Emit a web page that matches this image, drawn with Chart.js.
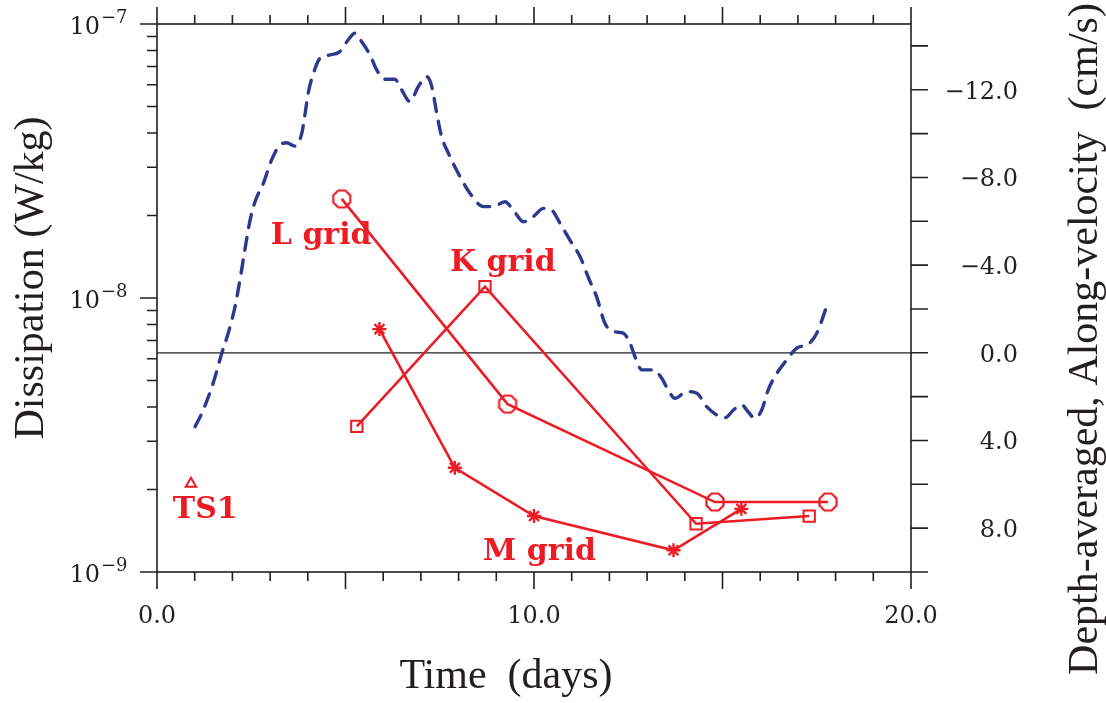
<!DOCTYPE html>
<html>
<head>
<meta charset="utf-8">
<title>Dissipation and depth-averaged velocity</title>
<script src="https://cdn.jsdelivr.net/npm/chart.js@4.4.1/dist/chart.umd.min.js"></script>
<style>
  html, body { margin: 0; padding: 0; background: #fff; }
</style>
</head>
<body>
<canvas id="canvas" width="1106" height="703"></canvas>
<script>
// depth-averaged along-channel velocity (cm/s), right axis
var velDays = [1.01, 1.19, 1.49, 1.72, 1.89, 2.07, 2.20, 2.33, 2.47, 2.60, 2.82, 3.04, 3.26, 3.44,
  3.66, 3.84, 3.93, 4.01, 4.15, 4.32, 4.59, 4.85, 5.07, 5.25, 5.43, 5.65, 5.83, 6.05, 6.31, 6.49,
  6.71, 6.93, 7.15, 7.29, 7.42, 7.55, 7.73, 7.99, 8.30, 8.66, 8.92, 9.23, 9.45, 9.72, 9.98, 10.25,
  10.47, 10.69, 10.95, 11.22, 11.45, 11.66, 11.88, 12.15, 12.37, 12.55, 12.68, 12.86, 13.16, 13.39,
  13.56, 13.74, 14.05, 14.32, 14.58, 14.85, 15.07, 15.29, 15.51, 15.68, 15.86, 16.04, 16.21, 16.44,
  16.70, 16.97, 17.28, 17.50, 17.76];
var velValues = [3.37, 2.75, 1.38, 0.01, -0.90, -2.11, -3.32, -4.69, -6.06, -6.89, -7.73, -8.80, -9.48, -9.58,
  -9.43, -10.01, -10.93, -11.84, -12.75, -13.43, -13.59, -13.74, -14.27, -14.58, -14.19, -13.59, -12.90, -12.48, -12.48, -11.99,
  -11.46, -12.14, -12.60, -12.14, -10.93, -9.86, -9.10, -8.19, -7.28, -6.67, -6.67, -6.89, -6.51, -5.98, -6.21, -6.59,
  -6.51, -5.91, -5.15, -4.39, -3.40, -2.56, -1.35, -0.96, -0.89, -0.43, 0.18, 0.78, 0.78, 1.16,
  1.70, 2.08, 1.77, 1.85, 2.46, 2.84, 2.96, 2.61, 2.38, 2.69, 2.99, 2.61, 1.70, 0.94,
  0.33, -0.21, -0.40, -0.89, -2.10];

// dissipation (W/kg) from the three grids, left axis
var lDays = [4.9, 9.3, 14.8, 17.8];
var lDiss = [2.3e-8, 4.1e-9, 1.8e-9, 1.8e-9];
var kDays = [5.3, 8.7, 14.3, 17.3];
var kDiss = [3.4e-9, 1.1e-8, 1.5e-9, 1.6e-9];
var mDays = [5.9, 7.9, 10.0, 13.7, 15.5];
var mDiss = [7.7e-9, 2.4e-9, 1.6e-9, 1.2e-9, 1.7e-9];
var tsDays = [0.9];
var tsDiss = [2.1e-9];

// tick labels
var dayLabels = [0, 10, 20];
var velLabels = [-12, -8, -4, 0, 4, 8];
var dissExponents = [-7, -8, -9];

// red text labels, anchored at (day, dissipation) of the text's left baseline
var gridNames = [
  { text: "L grid", day: 3.02, diss: 1.57e-8 },
  { text: "K grid", day: 7.77, diss: 1.25e-8 },
  { text: "M grid", day: 8.65, diss: 1.11e-9 },
  { text: "TS1", day: 0.42, diss: 1.57e-9 }
];

var RED = "#ed1c24";
var BLUE = "#2b3990";
var INK = "#231f20";

function pts(xs, ys) {
  return xs.map(function (x, i) { return { x: x, y: ys[i] }; });
}

// open octagon marker for the L grid
var octagon = (function () {
  var c = document.createElement("canvas");
  c.width = c.height = 24;
  var g = c.getContext("2d");
  g.strokeStyle = RED;
  g.lineWidth = 2.2;
  g.beginPath();
  for (var i = 0; i < 8; i++) {
    var a = Math.PI / 8 + i * Math.PI / 4;
    var px = 12 + 9.2 * Math.cos(a), py = 12 + 9.2 * Math.sin(a);
    if (i === 0) g.moveTo(px, py); else g.lineTo(px, py);
  }
  g.closePath();
  g.stroke();
  return c;
})();

// frame, tick marks (majors longer than minors), tick labels and titles
var axesFrame = {
  id: "axesFrame",
  beforeDatasetsDraw: function (chart) {
    var ctx = chart.ctx, a = chart.chartArea;
    var sx = chart.scales.x, sy = chart.scales.y, sv = chart.scales.y2;
    var d, e, m, v, p, len;
    ctx.save();
    ctx.strokeStyle = INK;
    ctx.lineWidth = 1.6;
    ctx.strokeRect(a.left, a.top, a.right - a.left, a.bottom - a.top);
    ctx.beginPath();
    for (d = 0; d <= 20; d++) {
      p = sx.getPixelForValue(d);
      len = d % 5 === 0 ? 17 : 9;
      ctx.moveTo(p, a.bottom); ctx.lineTo(p, a.bottom + len);
      ctx.moveTo(p, a.top); ctx.lineTo(p, a.top - len);
    }
    for (e = -9; e <= -7; e++) {
      for (m = 1; m <= 9; m++) {
        if (e === -7 && m > 1) break;
        p = sy.getPixelForValue(m * Math.pow(10, e));
        len = m === 1 ? 17 : 10;
        ctx.moveTo(a.left, p); ctx.lineTo(a.left - len, p);
      }
    }
    for (v = -14; v <= 10; v += 2) {
      p = sv.getPixelForValue(v);
      ctx.moveTo(a.right, p); ctx.lineTo(a.right + 17, p);
    }
    ctx.stroke();
    ctx.restore();
  },
  afterDatasetsDraw: function (chart) {
    var ctx = chart.ctx, sx = chart.scales.x, sy = chart.scales.y, sv = chart.scales.y2;
    ctx.save();
    ctx.fillStyle = INK;
    ctx.textBaseline = "alphabetic";

    // 10^n labels on the log axis
    dissExponents.forEach(function (n) {
      var py = sy.getPixelForValue(Math.pow(10, n));
      ctx.font = "24px 'DejaVu Serif'";
      ctx.textAlign = "right";
      ctx.fillText("10", 100, py + 9.5);
      ctx.font = "18px 'DejaVu Serif'";
      ctx.textAlign = "left";
      ctx.fillText("\u2212" + Math.abs(n), 101, py - 1);
    });

    // day labels
    ctx.font = "24px 'DejaVu Serif'";
    ctx.textAlign = "center";
    dayLabels.forEach(function (d) {
      ctx.fillText(d.toFixed(1), sx.getPixelForValue(d), 623);
    });

    // velocity labels
    ctx.textAlign = "right";
    velLabels.forEach(function (v) {
      var txt = (v < 0 ? "\u2212" : "") + Math.abs(v).toFixed(1);
      ctx.fillText(txt, 1018, sv.getPixelForValue(v) + 9);
    });

    // axis titles
    ctx.font = "42px 'Liberation Serif'";
    ctx.textAlign = "center";
    ctx.fillText("Time  (days)", 506, 688);
    ctx.save();
    ctx.translate(43, 278);
    ctx.rotate(-Math.PI / 2);
    ctx.fillText("Dissipation (W/kg)", 0, 0);
    ctx.restore();
    ctx.save();
    ctx.translate(1097, 339);
    ctx.rotate(-Math.PI / 2);
    ctx.fillText("Depth-averaged, Along-velocity  (cm/s)", 0, 0);
    ctx.restore();

    // grid names
    ctx.fillStyle = RED;
    ctx.font = "bold 30px 'DejaVu Serif'";
    ctx.textAlign = "left";
    gridNames.forEach(function (g) {
      ctx.fillText(g.text, sx.getPixelForValue(g.day), sy.getPixelForValue(g.diss));
    });
    ctx.restore();
  }
};

var config = {
  type: "line",
  data: {
    datasets: [
      {
        label: "L grid",
        yAxisID: "y",
        data: pts(lDays, lDiss),
        borderColor: RED,
        borderWidth: 2.6,
        pointStyle: octagon,
        pointRadius: 9
      },
      {
        label: "K grid",
        yAxisID: "y",
        data: pts(kDays, kDiss),
        borderColor: RED,
        borderWidth: 2.6,
        pointStyle: "rect",
        pointRadius: 8,
        pointBorderWidth: 2,
        pointBorderColor: RED,
        pointBackgroundColor: "rgba(0,0,0,0)"
      },
      {
        label: "M grid",
        yAxisID: "y",
        data: pts(mDays, mDiss),
        borderColor: RED,
        borderWidth: 2.6,
        pointStyle: "star",
        pointRadius: 7,
        pointBorderWidth: 2.4,
        pointBorderColor: RED
      },
      {
        label: "TS1",
        yAxisID: "y",
        data: pts(tsDays, tsDiss),
        showLine: false,
        pointStyle: "triangle",
        pointRadius: 6,
        pointBorderWidth: 2,
        pointBorderColor: RED,
        pointBackgroundColor: "#fff"
      },
      {
        label: "Velocity",
        yAxisID: "y2",
        data: pts(velDays, velValues),
        borderColor: BLUE,
        borderWidth: 3.4,
        borderDash: [13, 10],
        borderCapStyle: "round",
        pointRadius: 0,
        cubicInterpolationMode: "monotone"
      },
      {
        label: "zero",
        yAxisID: "y2",
        data: pts([0, 20], [0, 0]),
        borderColor: INK,
        borderWidth: 1.2,
        pointRadius: 0
      }
    ]
  },
  options: {
    responsive: false,
    animation: false,
    layout: { padding: { left: 157, top: 24, right: 195, bottom: 131 } },
    plugins: {
      legend: { display: false },
      tooltip: { enabled: false }
    },
    scales: {
      x: { type: "linear", display: false, min: 0, max: 20 },
      y: { type: "logarithmic", display: false, min: 1e-9, max: 1e-7 },
      y2: { type: "linear", display: false, position: "right", min: -15, max: 10, reverse: true }
    }
  },
  plugins: [axesFrame]
};

window.onload = function () {
  var ctx = document.getElementById("canvas").getContext("2d");
  window.myChart = new Chart(ctx, config);
};
</script>
</body>
</html>
